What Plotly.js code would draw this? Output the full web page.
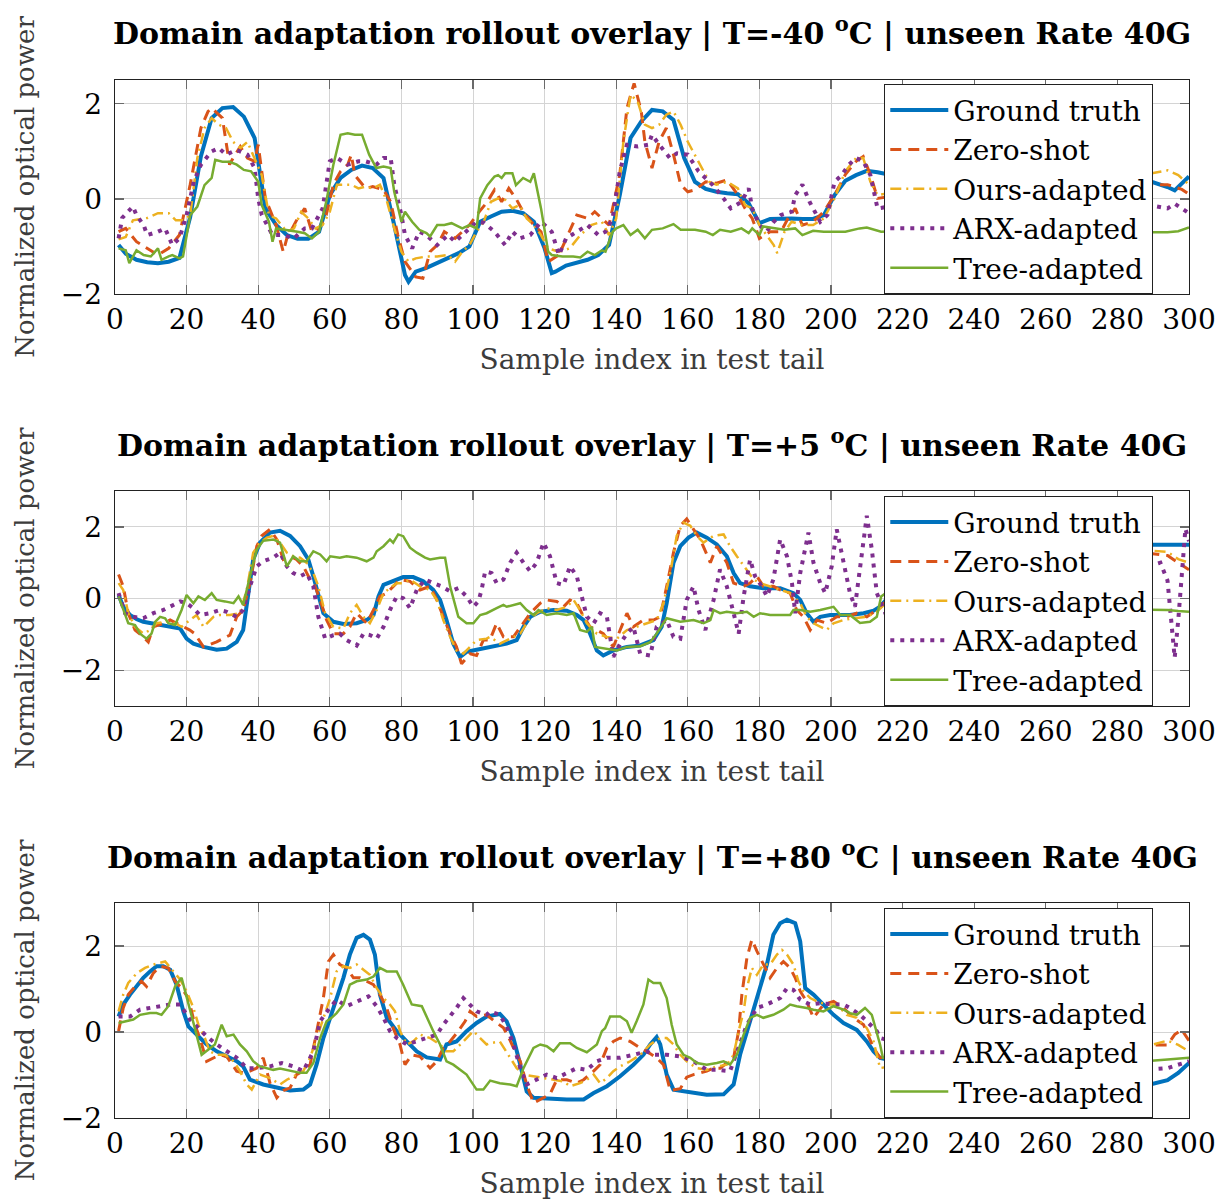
<!DOCTYPE html>
<html><head><meta charset="utf-8">
<script src="https://cdn.plot.ly/plotly-3.0.1.min.js"></script>
<style>html,body{margin:0;padding:0;background:#fff}#chart{width:1224px;height:1202px}</style>
</head><body><div id="chart"></div>
<script>
// ---- labels ----
const seriesNames = ['Ground truth','Zero-shot','Ours-adapted','ARX-adapted','Tree-adapted'];
const panelTemps = ['-40','+5','+80'];
const xTitle = 'Sample index in test tail';
const yTitle = 'Normalized optical power';
const xTickVals = [0,20,40,60,80,100,120,140,160,180,200,220,240,260,280,300];
const yTickVals = [-2,0,2];

// ---- Panel 1 : T=-40 oC  ([sample index, value]) ----
const p1_gt = [[1,-0.97],[3,-1.15],[6,-1.28],[9,-1.33],[12,-1.35],[15,-1.32],[18,-1.24],[21,-0.38],[24,0.9],[27,1.7],[30,1.91],[33,1.93],[36,1.73],[39,1.28],[42,-0.2],[45,-0.55],[48,-0.76],[51,-0.84],[54,-0.84],[57,-0.69],[60,0.08],[63,0.44],[66,0.61],[69,0.7],[72,0.65],[75,0.44],[78,-0.55],[81,-1.6],[82,-1.74],[84,-1.53],[87,-1.45],[90,-1.35],[93,-1.25],[96,-1.14],[99,-1.0],[102,-0.48],[105,-0.37],[108,-0.27],[111,-0.25],[114,-0.3],[117,-0.48],[120,-1.04],[122,-1.56],[123,-1.53],[126,-1.4],[129,-1.34],[132,-1.28],[135,-1.18],[138,-0.97],[141,0.08],[144,1.28],[147,1.63],[150,1.87],[153,1.84],[156,1.66],[159,0.86],[162,0.36],[165,0.21],[168,0.15],[171,0.12],[174,0.1],[177,-0.09],[180,-0.51],[183,-0.42],[186,-0.41],[189,-0.41],[192,-0.42],[195,-0.42],[198,-0.34],[201,0.08],[204,0.38],[207,0.5],[210,0.59],[213,0.56],[230,0.3],[250,0.1],[270,0.2],[290,0.35],[294,0.25],[296,0.18],[300,0.47]];
const p1_zero = [[1,-0.69],[3,-0.62],[6,-0.9],[9,-1.04],[12,-1.18],[15,-1.04],[18,-0.76],[21,0.3],[24,1.49],[26,1.84],[27,1.91],[30,1.7],[32,0.72],[33,0.86],[35,1.1],[37,0.86],[39,0.79],[40,1.14],[42,0.01],[45,-0.55],[47,-1.11],[48,-0.83],[51,-0.41],[53,-0.2],[55,-0.69],[57,-0.62],[59,-0.34],[61,0.3],[63,0.58],[65,0.72],[66,0.93],[67,0.5],[70,0.22],[72,0.26],[75,0.19],[77,-0.06],[79,-0.76],[81,-1.32],[84,-1.64],[86,-1.67],[88,-1.11],[90,-0.97],[92,-0.69],[95,-0.83],[97,-0.69],[99,-0.55],[101,-0.34],[104,-0.06],[106,0.19],[108,-0.06],[110,0.22],[112,0.01],[114,-0.27],[117,-0.55],[119,-0.69],[121,-1.32],[124,-1.18],[127,-0.69],[129,-0.34],[132,-0.41],[134,-0.27],[136,-0.41],[138,-0.55],[141,0.51],[143,1.91],[145,2.43],[147,1.84],[148,1.21],[150,0.65],[152,1.21],[154,1.49],[156,0.93],[158,0.3],[160,0.15],[162,0.19],[165,0.36],[168,0.33],[171,0.4],[174,0.08],[176,-0.2],[178,-0.41],[180,-0.83],[183,-0.69],[186,-0.69],[188,-0.41],[190,-0.2],[192,-0.55],[195,-0.48],[198,-0.27],[201,0.08],[204,0.51],[207,0.79],[209,0.89],[211,0.51],[213,0.01],[230,0.2],[260,-0.2],[285,0.3],[294,0.3],[298,0.2],[300,0.1]];
const p1_ours = [[1,-0.85],[3,-0.8],[5,-0.45],[9,-0.4],[12,-0.3],[15,-0.3],[17,-0.45],[19,-0.45],[21,-0.35],[23,0.86],[25,1.49],[27,1.7],[29,1.56],[31,1.49],[33,1.2],[35,1.07],[37,1.2],[39,0.86],[41,0.5],[43,-0.34],[45,-0.41],[48,-0.69],[50,-0.62],[52,-0.27],[54,-0.41],[56,-0.62],[58,-0.55],[60,-0.27],[62,0.3],[64,0.3],[66,0.3],[68,0.22],[70,0.26],[72,0.22],[74,0.3],[76,-0.06],[78,-0.62],[80,-1.11],[82,-1.32],[84,-1.25],[87,-1.21],[90,-1.21],[93,-1.18],[95,-1.32],[97,-1.11],[99,-0.97],[101,-0.69],[103,-0.48],[105,-0.06],[107,0.01],[109,-0.02],[111,-0.2],[113,-0.13],[115,-0.41],[117,-0.55],[119,-0.76],[121,-1.04],[124,-1.11],[127,-1.04],[130,-0.76],[133,-0.55],[136,-0.48],[138,-0.76],[140,-0.41],[142,1.2],[144,2.19],[146,2.05],[148,1.56],[150,1.49],[152,1.56],[154,1.77],[156,1.84],[158,1.56],[160,1.2],[162,0.93],[164,0.65],[166,0.36],[168,0.3],[171,0.36],[174,0.22],[176,-0.13],[178,-0.2],[180,-0.55],[182,-0.76],[184,-0.97],[185,-1.14],[187,-0.69],[189,-0.48],[192,-0.55],[195,-0.55],[198,-0.41],[201,0.01],[204,0.58],[207,0.86],[209,0.86],[211,0.36],[213,0.08],[230,0.3],[255,-0.1],[280,0.4],[294,0.6],[297,0.5],[300,0.3]];
const p1_arx = [[1,-0.83],[2,-0.4],[5,-0.16],[6,-0.34],[8,-0.55],[9,-0.76],[12,-0.69],[14,-0.62],[16,-0.97],[18,-0.83],[20,-0.34],[22,0.36],[24,0.72],[27,1.0],[29,1.07],[31,0.93],[34,1.03],[37,0.93],[39,0.65],[40,0.01],[41,-0.34],[42,-0.48],[44,-0.76],[47,-0.76],[50,-0.83],[53,-0.62],[55,-0.62],[56,-0.48],[58,-0.2],[60,0.79],[62,0.86],[65,0.72],[68,0.79],[70,0.79],[73,0.72],[75,0.86],[77,0.86],[78,0.3],[80,-0.34],[81,-0.76],[83,-1.04],[85,-0.69],[87,-0.76],[90,-0.97],[93,-0.76],[95,-0.9],[98,-0.69],[101,-0.48],[103,-0.5],[106,-0.69],[109,-0.97],[111,-0.69],[113,-0.83],[116,-0.76],[119,-0.48],[122,-0.69],[124,-1.18],[126,-0.83],[129,-0.69],[132,-0.55],[135,-0.76],[137,-0.69],[139,-0.41],[141,0.58],[143,1.14],[146,1.1],[149,1.14],[150,1.35],[152,1.14],[155,0.86],[157,0.96],[160,0.93],[163,0.58],[165,0.44],[167,0.29],[170,0.01],[172,-0.2],[175,-0.06],[177,0.22],[178,-0.2],[180,-0.55],[182,-0.69],[184,-0.48],[186,-0.34],[189,-0.27],[190,0.08],[192,0.3],[194,-0.06],[195,-0.2],[197,-0.48],[199,-0.34],[201,0.36],[203,0.5],[205,0.72],[207,0.86],[209,0.79],[211,0.5],[213,-0.2],[230,0],[255,-0.3],[280,0],[294,-0.2],[296,-0.1],[300,-0.3]];
const p1_tree = [[1,-1.04],[3,-1.08],[4,-1.35],[6,-1.08],[8,-1.18],[10,-1.21],[12,-1.04],[13,-1.28],[15,-1.21],[16,-1.18],[18,-1.25],[19,-1.21],[21,-0.34],[23,-0.16],[25,0.29],[27,0.44],[28,0.82],[30,0.78],[32,0.78],[34,0.72],[36,0.61],[38,0.58],[40,0.36],[41,-0.13],[43,-0.48],[44,-0.9],[45,-0.62],[48,-0.65],[51,-0.69],[53,-0.72],[55,-0.83],[57,-0.69],[59,-0.06],[61,0.72],[63,1.35],[65,1.38],[67,1.35],[69,1.35],[71,0.93],[73,0.65],[75,0.68],[77,0.65],[78,0.15],[80,-0.48],[81,-0.27],[83,-0.48],[85,-0.65],[87,-0.72],[88,-0.79],[90,-0.55],[92,-0.55],[94,-0.51],[97,-0.62],[99,-0.55],[101,-0.62],[102,0.01],[104,0.29],[106,0.47],[107,0.5],[108,0.44],[109,0.54],[111,0.54],[112,0.29],[114,0.44],[116,0.36],[117,0.54],[119,-0.2],[121,-1.11],[122,-1.18],[125,-1.21],[128,-1.21],[130,-1.23],[132,-1.11],[134,-1.18],[136,-1.08],[137,-1.11],[139,-0.69],[140,-0.62],[142,-0.55],[144,-0.76],[146,-0.65],[148,-0.83],[150,-0.65],[153,-0.62],[156,-0.53],[158,-0.65],[162,-0.65],[165,-0.69],[167,-0.76],[169,-0.65],[172,-0.69],[175,-0.62],[177,-0.72],[178,-0.62],[180,-0.76],[181,-0.58],[184,-0.62],[187,-0.65],[190,-0.62],[192,-0.76],[195,-0.67],[198,-0.69],[201,-0.69],[204,-0.69],[208,-0.62],[210,-0.6],[214,-0.69],[230,-0.65],[250,-0.7],[270,-0.66],[290,-0.7],[294,-0.7],[297,-0.68],[300,-0.6]];

// ---- Panel 2 : T=+5 oC ----
const p2_gt = [[1,0.1],[2.3,-0.23],[4.2,-0.46],[6.1,-0.58],[7.9,-0.65],[11.6,-0.72],[15.4,-0.79],[18.2,-0.84],[20,-1.12],[21.9,-1.26],[24.7,-1.35],[28.4,-1.43],[31.2,-1.4],[34,-1.21],[35.8,-0.88],[37.2,0.06],[38.6,1.09],[40.5,1.56],[43.3,1.84],[46.1,1.89],[48.9,1.75],[51.7,1.46],[54,1.09],[55.4,0.62],[56.8,0.06],[58.2,-0.41],[61,-0.65],[63.8,-0.71],[67.5,-0.69],[70.3,-0.6],[72.2,-0.46],[73.6,0.06],[75,0.38],[77.7,0.48],[80.5,0.6],[83.3,0.6],[86.1,0.48],[88.9,0.24],[90.8,-0.04],[92.6,-0.6],[94.5,-1.26],[96.4,-1.63],[98.2,-1.49],[101,-1.43],[104.7,-1.35],[109.4,-1.26],[112.2,-1.16],[114.1,-0.79],[116,-0.51],[118.8,-0.37],[122.5,-0.32],[126.2,-0.34],[129,-0.46],[130.9,-0.6],[132.7,-0.98],[134.6,-1.45],[136.4,-1.59],[139.2,-1.45],[143,-1.35],[146.7,-1.31],[150.4,-1.16],[152.7,-0.79],[154.1,-0.13],[156,1.0],[157.9,1.46],[160.2,1.7],[162.5,1.84],[165.3,1.7],[168.1,1.51],[170.9,1.18],[172.8,0.71],[174.6,0.43],[177.4,0.34],[181.1,0.29],[185.8,0.29],[189.5,0.15],[191.4,-0.04],[193.2,-0.41],[195.1,-0.65],[197,-0.51],[199.8,-0.46],[202.6,-0.46],[205.3,-0.46],[209.1,-0.41],[211.9,-0.34],[213.7,-0.23],[220,0.5],[235,1.4],[255,1.5],[275,1.5],[294,1.48],[300,1.5]];
const p2_zero = [[1,0.67],[2.3,0.34],[3.7,-0.41],[5.6,-0.88],[7.9,-1.07],[9.3,-1.21],[10.7,-0.79],[13.5,-0.69],[15.4,-0.6],[18.2,-0.74],[20.9,-0.88],[22.3,-0.98],[24.7,-1.35],[28.4,-1.21],[32.1,-1.02],[34,-0.51],[35.8,-0.32],[37.7,0.43],[39.6,1.46],[41,1.75],[43.3,1.93],[45.2,1.65],[47,1.09],[48.9,1.18],[50.7,1.09],[52.6,0.9],[54.5,0.53],[55.9,0.34],[57.3,-0.04],[59.1,-0.6],[61,-0.98],[63.8,-0.98],[65.6,-0.79],[67.5,-0.41],[70.3,-0.69],[72.2,-0.32],[74,0.06],[75.9,0.15],[77.7,0.34],[79.6,0.53],[82.4,0.48],[85.2,0.24],[88,0.34],[89.9,-0.04],[91.7,-0.51],[93.6,-0.98],[95.4,-1.35],[96.8,-1.82],[99.2,-1.54],[101,-1.59],[102.9,-1.16],[104.7,-1.16],[106.6,-0.69],[108.5,-1.07],[111.3,-1.07],[114.1,-0.69],[116,-0.41],[118.8,-0.13],[120.6,-0.04],[123.4,-0.08],[125.3,-0.23],[127.1,-0.04],[129,-0.13],[130.9,-0.51],[132.7,-0.79],[134.6,-0.88],[136.4,-0.98],[139.2,-1.35],[141.1,-0.88],[143,-0.41],[144.8,-0.79],[147.6,-0.6],[150.4,-0.6],[152.3,-0.51],[154.1,0.34],[156,1.28],[157.9,2.03],[159.7,2.22],[161.6,1.93],[163.5,1.65],[166.3,1.0],[168.1,1.46],[170.9,1.0],[172.8,0.43],[175.6,0.34],[177.4,0.43],[179.3,0.62],[181.1,0.34],[183.9,0.34],[185.8,0.24],[188.6,0.15],[190.4,-0.32],[192.3,-0.51],[194.2,-0.88],[196.1,-0.6],[198.8,-0.69],[201.6,-0.51],[204.4,-0.51],[207.2,-0.41],[210,-0.51],[212.8,-0.32],[225,0.8],[245,1.4],[270,1.5],[294,1.2],[297,1.0],[300,0.8]];
const p2_ours = [[1,0.43],[2.3,0.24],[3.7,-0.41],[5.6,-0.79],[7.9,-0.98],[9.8,-0.88],[11.6,-0.69],[14.4,-0.65],[16.8,-0.69],[18.6,-0.79],[20.9,-0.6],[22.8,-0.46],[24.7,-0.79],[27.5,-0.51],[29.3,-0.46],[32.1,-0.46],[34.9,-0.41],[36.8,0.24],[38.6,1.28],[40.5,1.56],[42.4,1.7],[44.2,1.75],[46.1,1.56],[48,1.28],[49.8,1.18],[51.7,1.14],[53.5,1.0],[55.4,0.71],[56.8,0.34],[58.7,-0.41],[61,-0.79],[63.8,-0.84],[65.6,-0.41],[67.5,-0.18],[69.4,-0.51],[71.2,-0.69],[73.1,-0.32],[75,0.15],[76.8,0.29],[78.7,0.43],[80.5,0.43],[82.4,0.53],[85.2,0.34],[88,0.24],[89.9,-0.04],[91.7,-0.6],[93.6,-1.07],[95.4,-1.45],[97.3,-1.54],[99.2,-1.35],[101,-1.16],[103.8,-1.12],[104.8,-1.07],[107.5,-1.26],[110.4,-1.12],[113.2,-0.98],[115.5,-0.6],[117.8,-0.41],[120.6,-0.27],[123.4,-0.32],[126.2,-0.23],[128.1,-0.04],[129.9,-0.32],[131.8,-0.69],[134.6,-0.98],[137.4,-1.07],[140.2,-1.12],[143,-0.88],[145.7,-0.79],[148.5,-0.69],[151.3,-0.6],[153.2,-0.13],[155.1,0.71],[156.9,1.75],[158.8,2.12],[160.7,2.03],[162.5,1.75],[164.4,1.56],[167.2,1.75],[170,1.79],[171.8,1.46],[173.7,1.18],[176.5,0.81],[178.4,0.53],[180.2,0.43],[183,0.34],[185.8,0.24],[188.6,0.15],[191.4,-0.13],[193.2,-0.51],[195.1,-0.69],[197,-0.79],[198.8,-0.88],[200.7,-0.69],[203.5,-0.6],[206.3,-0.55],[210,-0.51],[212.8,-0.37],[225,0.8],[245,1.4],[270,1.5],[294,1.3],[297,1.1],[300,1.0]];
const p2_arx = [[1,0.15],[2.8,-0.41],[5.1,-0.51],[7.9,-0.55],[10.7,-0.41],[13.5,-0.32],[16.3,-0.18],[18.2,-0.08],[20,-0.13],[21.9,-0.27],[23.7,-0.46],[26.5,-0.41],[29.3,-0.32],[31.2,-0.37],[34,-0.51],[35.8,-0.32],[37.7,0.34],[39.6,0.9],[41.4,1.04],[44.2,1.14],[46.1,1.28],[48,0.9],[49.8,0.71],[51.7,0.62],[53.5,0.71],[55.4,0.34],[56.8,-0.51],[58.7,-1.12],[61,-1.02],[62.8,-0.98],[64.7,-1.16],[67.5,-1.31],[69.4,-0.98],[71.2,-1.02],[73.1,-1.12],[75,-0.79],[76.8,-0.32],[78.7,0.06],[80.5,0.01],[82.4,-0.27],[84.3,0.24],[86.6,0.53],[88.9,0.43],[91.2,0.34],[93.6,0.2],[95.9,0.29],[98.2,0.06],[100.1,-0.23],[101.5,-0.08],[102.4,0.24],[103.4,0.76],[105.2,0.71],[106.6,0.43],[108.5,0.53],[110.4,1.0],[112.2,1.28],[114.1,1.0],[116,0.76],[117.8,1.0],[119.7,1.56],[121.5,1.18],[123.4,0.43],[125.3,0.38],[127.1,0.9],[129,0.62],[130.4,0.06],[131.8,-0.51],[133.7,-0.69],[135.5,-0.41],[137.4,-0.51],[139.2,-1.63],[141.1,-1.26],[143,-0.98],[144.8,-0.79],[146.7,-1.54],[149.5,-1.59],[151.3,-0.79],[154.1,-0.6],[156,-1.07],[157.9,-1.12],[159.7,-0.04],[161.6,0.34],[163,-0.32],[164.9,-0.88],[167.2,-0.04],[169,0.81],[170.9,0.34],[172.8,-0.41],[174.2,-0.98],[175.6,0.06],[177.4,1.09],[178.8,0.62],[180.7,0.34],[182.1,0.06],[183.9,0.53],[185.8,1.65],[187.7,1.18],[189.1,0.43],[190,-0.41],[191.4,0.71],[193.7,1.84],[195.1,1.0],[197,0.43],[198.4,0.15],[200.2,0.9],[201.6,1.93],[203.5,1.0],[205.3,0.15],[206.7,-0.23],[208.6,1.28],[210,2.31],[211.4,1.37],[212.8,0.15],[216,-0.6],[225,0.5],[250,0.5],[275,0.5],[292,1.0],[294,0.5],[296,-1.65],[297,-0.6],[299,1.95],[300,1.6]];
const p2_tree = [[1,0.06],[2.3,-0.32],[3.7,-0.69],[5.6,-0.74],[7,-0.98],[8.8,-1.12],[10.2,-0.98],[11.2,-0.65],[12.6,-0.51],[14,-0.55],[14.9,-0.69],[16.8,-0.74],[18.6,-0.32],[20,0.1],[21.9,-0.13],[23.3,0.06],[25.1,-0.04],[27,0.15],[28.4,-0.04],[30.7,-0.08],[33.1,-0.13],[34.5,0.06],[35.8,-0.18],[37.7,0.62],[39.6,1.37],[41.4,1.61],[44.2,1.65],[46.1,1.56],[48,0.9],[49.8,1.18],[51.7,1.04],[53.5,1.04],[55.4,1.32],[57.3,1.23],[59.1,1.04],[60.1,1.18],[62.8,1.14],[64.7,1.18],[67.5,1.14],[70.3,1.04],[72.2,1.14],[73.1,1.32],[75,1.46],[76.8,1.65],[77.7,1.56],[79.1,1.79],[80.5,1.74],[82.4,1.42],[84.3,1.28],[86.6,1.14],[88,1.09],[90.8,1.14],[92.2,1.14],[93.6,0.34],[95.9,-0.51],[98.2,-0.69],[100.1,-0.69],[102,-0.46],[103.8,-0.41],[106.6,-0.27],[108.5,-0.18],[109.4,-0.23],[111.3,-0.18],[113.2,-0.13],[115,-0.32],[116.9,-0.46],[118.3,-0.32],[120.6,-0.46],[123.4,-0.41],[126.2,-0.46],[128.1,-0.41],[129.9,-0.88],[131.8,-0.93],[133.2,-0.79],[134.1,-1.35],[137.4,-1.4],[140.2,-1.45],[143,-1.35],[146.7,-1.33],[149.5,-1.22],[151.3,-0.98],[154.1,-0.55],[157.9,-0.65],[161.6,-0.6],[164.4,-0.69],[166.3,-0.6],[167.2,-0.32],[169,-0.41],[170.9,-0.37],[173.7,-0.41],[176.5,-0.37],[178.4,-0.51],[180.2,-0.41],[183,-0.46],[185.8,-0.46],[188.6,-0.46],[189.5,-0.32],[191.4,-0.32],[194.2,-0.37],[197,-0.32],[200.7,-0.23],[202.6,-0.46],[205.3,-0.46],[208.1,-0.68],[210.9,-0.65],[212.8,-0.51],[214,0.06],[216,0.2],[235,-0.3],[260,-0.35],[280,-0.3],[294,-0.32],[297,-0.35],[300,-0.37]];

// ---- Panel 3 : T=+80 oC ----
const p3_gt = [[1,0.36],[2.3,0.64],[4.2,0.87],[6.1,1.06],[7.9,1.26],[9.8,1.41],[11.6,1.53],[13.5,1.53],[15.4,1.45],[17.2,1.1],[19.1,0.48],[20.5,0.13],[22.8,-0.06],[25.6,-0.29],[28.4,-0.45],[31.2,-0.57],[34,-0.68],[35.8,-0.8],[37.7,-1.11],[41.4,-1.22],[45.2,-1.3],[48.9,-1.36],[52.6,-1.34],[54.5,-1.22],[56.3,-0.76],[58.2,-0.14],[60.1,0.33],[61.9,0.79],[63.8,1.26],[65.6,1.8],[67.5,2.19],[69.4,2.26],[71.2,2.15],[72.6,1.8],[74,0.87],[75.9,0.33],[78.7,0.02],[81.5,-0.22],[84.3,-0.45],[87.1,-0.59],[90.8,-0.64],[92.6,-0.29],[95.4,-0.22],[98.2,0.02],[101,0.21],[103.8,0.36],[107.5,0.42],[109.4,0.25],[111.3,-0.14],[113.2,-0.76],[115,-1.38],[116.9,-1.53],[120.6,-1.55],[126.2,-1.57],[130.9,-1.57],[133.7,-1.42],[137.4,-1.26],[141.1,-1.03],[144.8,-0.76],[147.6,-0.53],[149.5,-0.29],[151.3,-0.12],[152.3,-0.29],[154.1,-0.99],[156,-1.34],[159.7,-1.38],[165.3,-1.46],[170,-1.45],[172.8,-1.22],[174.6,-0.53],[176.5,0.02],[178.4,0.56],[180.2,1.02],[182.1,1.57],[183.9,2.26],[185.8,2.53],[187.7,2.61],[190,2.53],[191.4,2.11],[192.8,1.02],[195.1,0.87],[197.9,0.64],[200.7,0.4],[203.5,0.21],[207.2,0.05],[210,-0.22],[211.9,-0.45],[213.7,-0.6],[225,-0.8],[250,-0.5],[275,-1.0],[290,-1.2],[294,-1.12],[297,-0.95],[300,-0.72]];
const p3_zero = [[1,0.02],[2.3,0.56],[3.7,0.87],[5.6,1.06],[7.4,1.18],[8.8,1.06],[10.7,1.37],[12.6,1.53],[14.9,1.49],[16.8,1.18],[18.6,1.02],[20.5,0.79],[22.3,0.17],[23.7,-0.14],[25.6,-0.68],[27.5,-0.6],[29.3,-0.53],[31.2,-0.57],[34,-0.91],[35.8,-0.95],[37.7,-0.91],[39.6,-0.84],[41.4,-0.6],[43.3,-1.19],[45.2,-1.53],[47,-1.36],[48.9,-1.3],[50.7,-0.99],[52.6,-0.91],[54.5,-0.76],[56.3,0.02],[58.2,0.79],[59.6,1.64],[61,1.8],[62.8,1.57],[64.7,1.49],[66.6,1.26],[68.4,1.26],[70.3,1.18],[72.2,1.1],[74,0.87],[75.9,0.56],[77.7,0.09],[79.6,-0.29],[81,-0.76],[82.9,-0.53],[85.2,-0.57],[88,-0.84],[89.9,-0.68],[91.7,-0.37],[93.6,-0.22],[95.9,0.02],[97.8,0.25],[99.2,0.48],[101,0.36],[103.8,0.4],[106,0.25],[108.5,0.1],[110.4,-0.2],[111.3,-0.37],[113.2,-0.68],[115,-1.22],[116.9,-1.65],[119.7,-1.53],[121.5,-1.45],[123.4,-1.11],[126.2,-1.11],[129,-1.19],[130.9,-1.11],[133.7,-0.91],[135.5,-0.76],[137.4,-0.37],[139.2,-0.22],[141.1,-0.14],[143.9,-0.22],[146.7,-0.37],[148.5,-0.45],[151.3,-0.6],[153.2,-0.76],[155.1,-1.36],[157.9,-1.32],[159.7,-1.05],[161.6,-0.99],[163.5,-0.95],[165.3,-0.91],[167.2,-0.84],[169,-0.84],[170.9,-0.72],[172.8,-0.6],[174.2,0.02],[175.1,0.87],[176.5,1.72],[177.9,2.15],[179.3,1.88],[181.1,1.57],[183,1.26],[184.9,1.49],[186.7,1.64],[188.6,1.49],[190,1.26],[191.4,0.95],[193.2,0.71],[195.1,0.33],[197.9,0.64],[200.7,0.71],[203.5,0.56],[206.3,0.33],[209.1,0.17],[211.9,-0.37],[213.7,-0.6],[230,-0.5],[260,-0.8],[285,-0.3],[294,-0.3],[296,-0.06],[298,0.05],[300,-0.2]];
const p3_ours = [[1,0.48],[2.3,0.87],[3.7,1.14],[6.1,1.37],[8.4,1.49],[10.7,1.57],[14,1.64],[16.3,1.41],[18.2,1.22],[20,0.95],[21.9,0.56],[23.3,0.17],[25.1,-0.14],[26.5,-0.45],[28.4,-0.53],[30.7,-0.53],[33.1,-0.68],[34.9,-0.91],[36.8,-1.22],[38.2,-1.34],[40.5,-0.99],[43.3,-1.07],[46.1,-1.22],[48,-1.11],[50.7,-0.99],[52.6,-0.91],[54.5,-0.6],[56.3,-0.14],[58.2,0.33],[60.1,0.79],[61.9,1.41],[63.8,1.53],[65.6,1.49],[67.5,1.57],[69.4,1.45],[71.2,1.33],[73.1,1.02],[75,0.79],[76.8,0.64],[78.2,0.48],[79.6,0.02],[81.5,-0.29],[83.3,-0.22],[85.2,-0.06],[88,-0.14],[90.8,-0.29],[92.6,-0.45],[94.5,-0.45],[97.3,-0.22],[100.1,0.02],[102,-0.14],[103.8,-0.29],[104.8,-0.26],[107.5,-0.22],[110.4,-0.6],[112.2,-0.84],[114.1,-0.99],[116.9,-1.03],[119.7,-1.07],[122.5,-1.11],[125.3,-1.15],[127.1,-1.26],[129.9,-1.19],[131.8,-1.11],[133.7,-0.99],[135.5,-1.19],[137.4,-1.07],[139.2,-0.91],[141.1,-0.8],[143.9,-0.68],[146.7,-0.53],[149.5,-0.29],[152.3,-0.14],[154.1,-0.14],[156,-0.29],[157.9,-0.53],[159.7,-0.68],[162.5,-0.84],[165.3,-0.88],[168.1,-0.8],[170.9,-0.76],[172.8,-0.53],[174.2,0.02],[175.6,0.48],[176.5,1.02],[177.9,1.49],[179.3,1.33],[181.1,1.57],[183,1.57],[184.9,1.8],[186.3,1.91],[187.7,1.8],[189.5,1.57],[190.9,1.18],[192.3,0.95],[194.2,0.79],[196.1,0.71],[198.8,0.64],[201.6,0.64],[204.4,0.4],[207.2,0.33],[210,0.09],[211.9,-0.22],[213.7,-0.84],[230,-0.6],[260,-0.8],[285,-0.4],[294,-0.2],[297,-0.3],[300,-0.45]];
const p3_arx = [[1,0.36],[4.2,0.36],[7,0.52],[9.8,0.56],[12.6,0.6],[15.4,0.64],[18.2,0.64],[20.9,0.29],[23.3,0.09],[25.6,-0.1],[28.4,-0.29],[31.2,-0.45],[34,-0.6],[36.8,-0.84],[39.6,-0.84],[43.3,-0.8],[46.6,-0.72],[49.8,-0.8],[52.6,-0.91],[55.4,-0.45],[57.3,0.25],[59.6,0.52],[61.9,0.75],[64.7,0.6],[67.5,0.71],[70.8,0.83],[73.1,0.6],[75,0.33],[76.8,0.02],[78.7,-0.14],[81.5,-0.29],[84.3,-0.22],[87.1,-0.14],[89.9,-0.06],[91.7,0.17],[93.6,0.36],[95.4,0.56],[97.3,0.79],[99.2,0.64],[101,0.48],[103.8,0.4],[104.8,0.48],[107.5,0.4],[109.4,0.13],[111.3,-0.29],[113.2,-0.84],[115,-1.22],[117.8,-1.11],[120.6,-0.99],[123.4,-1.07],[126.2,-0.95],[129,-0.84],[131.8,-0.88],[134.6,-0.68],[137.4,-0.6],[141.1,-0.6],[144.8,-0.53],[148.5,-0.45],[150.4,-0.53],[154.1,-0.53],[157.9,-0.57],[161.6,-0.68],[165.3,-0.88],[168.1,-0.88],[171.8,-0.91],[174.6,-0.29],[176.5,0.17],[179.3,0.56],[182.1,0.64],[185.8,0.79],[187.7,1.02],[189.5,0.98],[191.4,0.75],[194.2,0.64],[197,0.67],[200.7,0.64],[203.5,0.64],[205.3,0.56],[208.1,0.4],[210,0.25],[212.8,0.02],[213.7,-0.14],[230,-0.5],[260,-0.8],[285,-0.9],[294,-0.84],[297,-0.76],[300,-0.68]];
const p3_tree = [[1,0.21],[3.3,0.25],[5.1,0.29],[7,0.4],[9.8,0.44],[11.6,0.44],[13,0.4],[14.9,0.6],[16.8,1.06],[18.6,1.26],[20,0.79],[22.3,0.09],[24.2,-0.53],[26.1,-0.41],[27.9,-0.29],[29.8,0.17],[31.2,-0.1],[33.1,-0.06],[34.9,-0.29],[36.8,-0.45],[38.6,-0.68],[40.5,-0.8],[42.4,-0.84],[44.2,-0.88],[46.1,-0.85],[48,-0.88],[49.8,-0.91],[51.7,-0.95],[53.5,-0.95],[55.4,-0.72],[57.3,-0.14],[59.1,0.25],[60.5,0.33],[61.9,0.44],[63.8,0.64],[65.6,1.1],[67.5,1.18],[70.3,1.22],[72.2,1.29],[74,1.49],[75.9,1.41],[78.7,1.41],[80.5,1.1],[82.9,0.64],[85.7,0.6],[87.1,0.33],[88.9,0.02],[90.8,-0.29],[92.6,-0.68],[94.5,-0.76],[96.4,-0.88],[98.2,-0.99],[101,-1.34],[102.9,-1.34],[104.8,-1.13],[107.5,-1.19],[110.4,-1.22],[112.2,-1.26],[114.1,-0.84],[116.9,-0.37],[118.8,-0.29],[120.6,-0.33],[122.5,-0.45],[124.3,-0.26],[127.1,-0.26],[129,-0.37],[131.8,-0.47],[134.6,-0.29],[136,0.02],[136.9,0.09],[138.3,0.36],[141.1,0.36],[143,0.25],[144.3,-0.02],[145.7,0.25],[147.6,0.64],[149,1.22],[150.4,1.14],[152.3,1.14],[154.1,0.79],[155.5,0.17],[156.9,-0.29],[158.8,-0.53],[160.7,-0.6],[162.5,-0.72],[165.3,-0.76],[168.1,-0.72],[170,-0.68],[171.8,-0.76],[173.7,-0.53],[175.6,-0.06],[177.4,0.33],[179.3,0.4],[181.1,0.33],[183.9,0.4],[186.7,0.52],[188.6,0.64],[190.4,0.6],[193.2,0.56],[195.1,0.52],[197.9,0.48],[200.7,0.6],[203.5,0.52],[205.3,0.44],[207.2,0.4],[209.5,0.56],[211.4,0.4],[213.7,-0.29],[214.5,-0.6],[230,-0.7],[260,-0.8],[285,-0.7],[294,-0.64],[297,-0.62],[300,-0.6]];

const panels = [
  [p1_gt, p1_zero, p1_ours, p1_arx, p1_tree],
  [p2_gt, p2_zero, p2_ours, p2_arx, p2_tree],
  [p3_gt, p3_zero, p3_ours, p3_arx, p3_tree]
];
const yRanges = [[-2, 2.5], [-3, 3], [-2, 3]];

// ---- styling ----
const FONT = 'DejaVu Serif';
const lineStyles = [
  {color:'#0072BD', width:4,   dash:'solid'},
  {color:'#D95319', width:3,   dash:'11px,7px'},
  {color:'#EDB120', width:2.5, dash:'11px,5px,2px,5px'},
  {color:'#7E2F8E', width:4,   dash:'4px,6px'},
  {color:'#77AC30', width:2.5, dash:'solid'}
];
// plot area: left 115, right 1189, top 80, bottom 1118
const yDomains = [[0.7938, 1.0], [0.3969, 0.6040], [0.0, 0.2071]];
const titleY = [1.0472, 0.6503, 0.2534];
const legendY = [0.9961, 0.5992, 0.2023];

const traces = [];
const layout = {
  width: 1224, height: 1202,
  margin: {l:115, r:35, t:80, b:84},
  paper_bgcolor: '#ffffff', plot_bgcolor: '#ffffff',
  font: {family: FONT, size: 28, color: '#000'},
  showlegend: true,
  annotations: []
};

panels.forEach((series, p) => {
  const k = p === 0 ? '' : String(p + 1);
  const legKey = 'legend' + k;
  series.forEach((pts, s) => {
    traces.push({
      type: 'scatter', mode: 'lines',
      x: pts.map(d => d[0]), y: pts.map(d => d[1]),
      name: seriesNames[s],
      xaxis: 'x' + k, yaxis: 'y' + k,
      legend: legKey,
      line: {color: lineStyles[s].color, width: lineStyles[s].width, dash: lineStyles[s].dash},
      hoverinfo: 'skip'
    });
  });
  const axCommon = {
    showgrid: true, gridcolor: '#d4d4d4', gridwidth: 1,
    zeroline: false,
    showline: true, linecolor: '#222', linewidth: 1.3, mirror: 'ticks',
    ticks: 'inside', ticklen: 9, tickwidth: 1.3, tickcolor: '#6a6a6a',
    tickfont: {family: FONT, size: 28, color: '#000'},
    automargin: false
  };
  layout['xaxis' + k] = Object.assign({}, axCommon, {
    anchor: 'y' + k, domain: [0, 1], range: [0, 300],
    tickmode: 'array', tickvals: xTickVals,
    title: {text: xTitle, font: {family: FONT, size: 28, color: '#3c3c3c'}, standoff: 14}
  });
  layout['yaxis' + k] = Object.assign({}, axCommon, {
    anchor: 'x' + k, domain: yDomains[p], range: yRanges[p],
    tickmode: 'array', tickvals: yTickVals,
    ticklabelstandoff: 6,
    title: {text: yTitle, font: {family: FONT, size: 26, color: '#3c3c3c'}, standoff: 18}
  });
  layout[legKey] = {
    x: 0.716, xanchor: 'left', y: legendY[p], yanchor: 'top',
    bgcolor: '#ffffff', bordercolor: '#222', borderwidth: 1.3,
    font: {family: FONT, size: 28, color: '#000'},
    itemwidth: 58, tracegroupgap: 0, traceorder: 'normal'
  };
  layout.annotations.push({
    xref: 'paper', yref: 'paper', x: 0.5, y: titleY[p],
    xanchor: 'center', yanchor: 'middle', showarrow: false,
    text: '<b>Domain adaptation rollout overlay | T=' + panelTemps[p] + ' <sup>o</sup>C | unseen Rate 40G</b>',
    font: {family: FONT, size: 30, color: '#000'}
  });
});

Plotly.newPlot('chart', traces, layout, {displayModeBar: false, staticPlot: true});
</script>
</body></html>
